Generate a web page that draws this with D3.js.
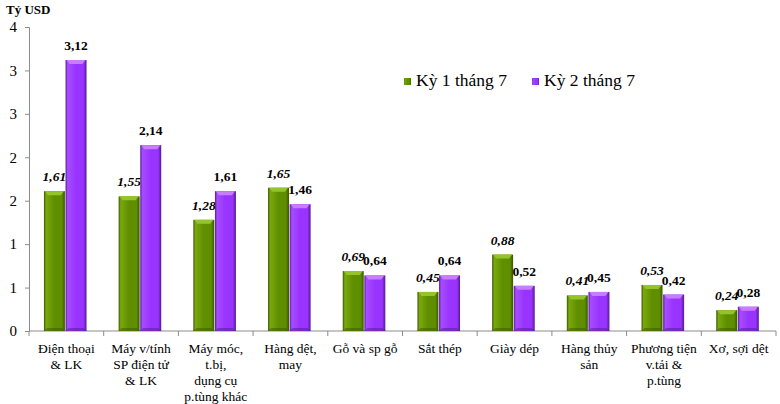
<!DOCTYPE html>
<html>
<head>
<meta charset="utf-8">
<script src="https://cdn.jsdelivr.net/npm/d3@7"></script>
<style>
  body { margin: 0; background: #fff; }
</style>
</head>
<body>
<div id="viz"></div>
<script>
const width = 780;
const height = 404;
const margin = {top: 27, right: 4, bottom: 73, left: 29};
const FONT = "'Times New Roman', 'Liberation Serif', Tinos, 'DejaVu Serif', serif";

const categories = [
  ["Điện thoại", "& LK"],
  ["Máy v/tính", "SP điện tử", "& LK"],
  ["Máy móc,", "t.bị,", "dụng cụ", "p.tùng khác"],
  ["Hàng dệt,", "may"],
  ["Gỗ và sp gỗ"],
  ["Sắt thép"],
  ["Giày dép"],
  ["Hàng thủy", "sản"],
  ["Phương tiện", "v.tải &", "p.tùng"],
  ["Xơ, sợi dệt"]
];
const ky1 = [1.61, 1.55, 1.28, 1.65, 0.69, 0.45, 0.88, 0.41, 0.53, 0.24];
const ky2 = [3.12, 2.14, 1.61, 1.46, 0.64, 0.64, 0.52, 0.45, 0.42, 0.28];
const seriesNames = ["Kỳ 1 tháng 7", "Kỳ 2 tháng 7"];
const yTicks = [0, 0.5, 1, 1.5, 2, 2.5, 3, 3.5];

// colours for the bevelled bars
const looks = [
  {id: "g", light: "#7aa80e", mid: "#5f8f00", dark: "#3a5700", top: "#93c42a", italic: true},
  {id: "p", light: "#a64dff", mid: "#9933ff", dark: "#551a8f", top: "#c77dff", italic: false}
];

const svg = d3.select("#viz").append("svg")
  .attr("width", width)
  .attr("height", height)
  .attr("font-family", FONT);

const defs = svg.append("defs");
looks.forEach(l => {
  const g = defs.append("linearGradient").attr("id", "grad-" + l.id)
    .attr("x1", "0%").attr("x2", "100%").attr("y1", "0%").attr("y2", "0%");
  g.append("stop").attr("offset", "0%").attr("stop-color", l.dark);
  g.append("stop").attr("offset", "10%").attr("stop-color", l.light);
  g.append("stop").attr("offset", "50%").attr("stop-color", l.mid);
  g.append("stop").attr("offset", "85%").attr("stop-color", l.mid);
  g.append("stop").attr("offset", "100%").attr("stop-color", l.dark);
});

const x0 = d3.scaleBand()
  .domain(d3.range(categories.length))
  .range([margin.left, width - margin.right]);

const x1 = d3.scaleBand()
  .domain([0, 1])
  .range([x0.bandwidth() * 0.2, x0.bandwidth() * 0.77])
  .paddingInner(0.03);

const y = d3.scaleLinear()
  .domain([0, 3.5])
  .range([height - margin.bottom, margin.top]);

// y axis
const yAxis = d3.axisLeft(y)
  .tickValues(yTicks)
  .tickFormat(d => Math.round(d))
  .tickSize(4)
  .tickPadding(8);

const yg = svg.append("g")
  .attr("transform", `translate(${margin.left},0)`)
  .call(yAxis)
  .attr("font-family", FONT)
  .attr("font-size", 15);
yg.select(".domain").attr("stroke", "#8c8c8c");
yg.selectAll(".tick line").attr("stroke", "#8c8c8c");
yg.selectAll(".tick text").attr("fill", "#000");

// x axis line and category ticks
const xg = svg.append("g");
xg.append("line")
  .attr("x1", margin.left).attr("x2", width - margin.right)
  .attr("y1", y(0)).attr("y2", y(0))
  .attr("stroke", "#8c8c8c");
xg.selectAll(".xt")
  .data(d3.range(categories.length + 1))
  .join("line")
  .attr("class", "xt")
  .attr("x1", i => i < categories.length ? x0(i) : x0.range()[1])
  .attr("x2", i => i < categories.length ? x0(i) : x0.range()[1])
  .attr("y1", y(0)).attr("y2", y(0) + 5)
  .attr("stroke", "#8c8c8c");

// category labels
const catG = svg.append("g")
  .selectAll("text")
  .data(categories)
  .join("text")
  .attr("text-anchor", "middle")
  .attr("font-family", FONT)
  .attr("font-size", "13.5px")
  .attr("fill", "#000")
  .attr("transform", (d, i) => `translate(${x0(i) + x0.bandwidth() / 2},${y(0) + 22})`);
catG.selectAll("tspan")
  .data(d => d)
  .join("tspan")
  .attr("x", 0)
  .attr("dy", (d, i) => i === 0 ? 0 : 16)
  .text(d => d);

// bars
const rows = categories.map((c, i) => [ky1[i], ky2[i]]);
const groups = svg.append("g")
  .selectAll("g")
  .data(rows)
  .join("g")
  .attr("transform", (d, i) => `translate(${x0(i)},0)`);

groups.each(function(vals) {
  const g = d3.select(this);
  vals.forEach((v, s) => {
    const l = looks[s];
    const bx = x1(s), bw = x1.bandwidth();
    const top = y(v), base = y(0);
    g.append("rect")
      .attr("x", bx).attr("y", top)
      .attr("width", bw).attr("height", base - top)
      .attr("fill", `url(#grad-${l.id})`);
    // top bevel
    g.append("path")
      .attr("d", `M${bx + 1},${top} L${bx + bw - 1},${top} L${bx + bw - 4},${top + 4} L${bx + 4},${top + 4} Z`)
      .attr("fill", l.top);
    // bottom bevel
    g.append("path")
      .attr("d", `M${bx},${base} L${bx + bw},${base} L${bx + bw - 3},${base - 3} L${bx + 3},${base - 3} Z`)
      .attr("fill", l.dark).attr("opacity", 0.5);
    g.append("text")
      .attr("x", bx + bw / 2)
      .attr("y", top - 10)
      .attr("text-anchor", "middle")
      .attr("font-family", FONT)
      .attr("font-size", "13.5px")
      .attr("font-weight", "bold")
      .attr("font-style", l.italic ? "italic" : "normal")
      .attr("fill", "#000")
      .text(v.toFixed(2).replace(".", ","));
  });
});

// unit label
svg.append("text")
  .attr("x", 6).attr("y", 14)
  .attr("font-family", FONT)
  .attr("font-size", "13px")
  .attr("font-weight", "bold")
  .text("Tỷ USD");

// legend
const legendX = [404, 532];
const leg = svg.append("g")
  .selectAll("g")
  .data(seriesNames)
  .join("g")
  .attr("transform", (d, i) => `translate(${legendX[i]},78)`);
leg.append("rect")
  .attr("width", 7).attr("height", 7)
  .attr("fill", (d, i) => `url(#grad-${looks[i].id})`);
leg.append("text")
  .attr("x", 12).attr("y", 8)
  .attr("font-family", FONT)
  .attr("font-size", "17.5px")
  .attr("fill", "#000")
  .text(d => d);
</script>
</body>
</html>
